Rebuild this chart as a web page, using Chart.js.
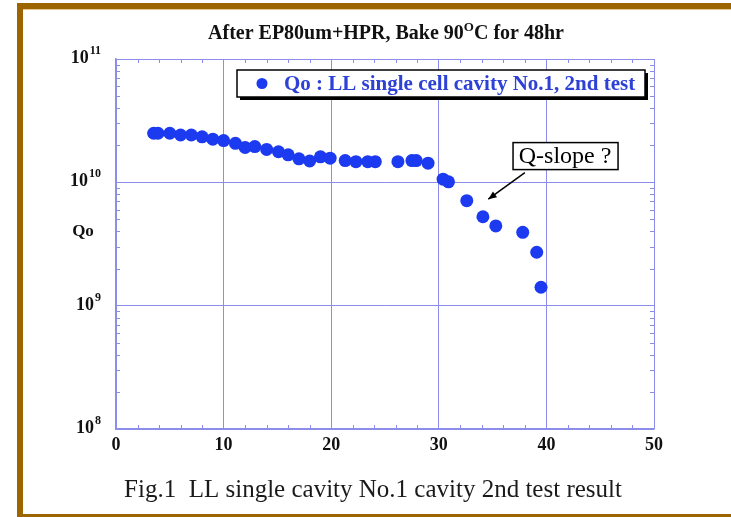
<!DOCTYPE html>
<html>
<head>
<meta charset="utf-8">
<script src="https://cdn.jsdelivr.net/npm/chart.js@4/dist/chart.umd.min.js"></script>
<style>
  html, body { margin: 0; padding: 0; background: #fff; }
  #wrap { position: relative; width: 731px; height: 517px; }
  #frame {
    position: absolute; left: 17px; top: 3px; right: 0; bottom: 0;
    border-left: 6px solid #9c6500; border-top: 6px solid #9c6500; border-bottom: 3px solid #9c6500;
    box-shadow: inset 0 1px 0 #e6c88a; pointer-events: none;
  }
</style>
</head>
<body>
<div id="wrap">
  <canvas id="myChart" width="731" height="517"></canvas>
  <div id="frame"></div>
</div>
<script>
// Eacc (MV/m) and Qo
const eacc = [3.5, 3.9, 5.0, 6.0, 7.0, 8.0, 9.0, 10.0, 11.1, 12.0, 12.9, 14.0, 15.1, 16.0, 17.0, 18.0, 19.0, 19.9,
  21.3, 22.3, 23.4, 24.1, 26.2, 27.5, 27.9, 29.0, 30.4, 30.9, 32.6, 34.1, 35.3, 37.8, 39.1, 39.5];
const qo = [2.50e10, 2.50e10, 2.50e10, 2.42e10, 2.42e10, 2.34e10, 2.24e10, 2.18e10, 2.07e10, 1.92e10, 1.95e10, 1.85e10,
  1.77e10, 1.67e10, 1.55e10, 1.49e10, 1.61e10, 1.57e10, 1.50e10, 1.47e10, 1.47e10, 1.47e10, 1.47e10, 1.50e10,
  1.50e10, 1.43e10, 1.06e10, 1.01e10, 7.1e9, 5.26e9, 4.43e9, 3.93e9, 2.71e9, 1.41e9];
const yDecades = [1e8, 1e9, 1e10, 1e11];
const yExponents = ["8", "9", "10", "11"];
const xMinor = [2, 4, 6, 8, 12, 14, 16, 18, 22, 24, 26, 28, 32, 34, 36, 38, 42, 44, 46, 48];
const titleParts = ["After EP80um+HPR, Bake 90", "O", "C for 48hr"];
const seriesLabel = "Qo : LL single cell cavity No.1, 2nd test";
const caption = "Fig.1  LL single cavity No.1 cavity 2nd test result";

const serif = '"Liberation Serif", "DejaVu Serif", serif';
const axisColor = "rgb(140,140,235)";
const dotColor = "rgb(28,58,240)";

// draws the frame texts, legend box, minor ticks and the Q-slope note
const extras = {
  id: "extras",
  afterDraw(chart) {
    const ctx = chart.ctx;
    const a = chart.chartArea;
    const xs = chart.scales.x;
    const ys = chart.scales.y;
    ctx.save();

    // minor tick marks inside the frame
    ctx.strokeStyle = axisColor;
    ctx.lineWidth = 1;
    ctx.beginPath();
    xMinor.forEach((v) => {
      const px = Math.round(xs.getPixelForValue(v)) + 0.5;
      ctx.moveTo(px, a.bottom); ctx.lineTo(px, a.bottom - 4);
      ctx.moveTo(px, a.top); ctx.lineTo(px, a.top + 4);
    });
    for (let e = 8; e < 11; e++) {
      for (let m = 2; m <= 9; m++) {
        const py = Math.round(ys.getPixelForValue(m * Math.pow(10, e))) + 0.5;
        ctx.moveTo(a.left, py); ctx.lineTo(a.left + 4, py);
        ctx.moveTo(a.right, py); ctx.lineTo(a.right - 4, py);
      }
    }
    ctx.stroke();

    // y tick labels as 10 with a raised exponent
    ctx.fillStyle = "#111";
    ctx.textBaseline = "alphabetic";
    ctx.textAlign = "left";
    yDecades.forEach((v, i) => {
      const py = ys.getPixelForValue(v);
      ctx.font = "bold 12px " + serif;
      const we = ctx.measureText(yExponents[i]).width;
      ctx.font = "bold 18px " + serif;
      const wb = ctx.measureText("10").width;
      const x0 = 100 - we - wb;
      ctx.fillText("10", x0, py + 4);
      ctx.font = "bold 12px " + serif;
      ctx.fillText(yExponents[i], x0 + wb + 1, py - 5);
    });

    // title with superscript O
    const big = "bold 20px " + serif;
    const small = "bold 13px " + serif;
    ctx.font = big;
    const w0 = ctx.measureText(titleParts[0]).width;
    const w2 = ctx.measureText(titleParts[2]).width;
    ctx.font = small;
    const w1 = ctx.measureText(titleParts[1]).width;
    let tx = 386 - (w0 + w1 + w2) / 2;
    const ty = 39;
    ctx.font = big;
    ctx.fillText(titleParts[0], tx, ty); tx += w0;
    ctx.font = small; ctx.fillText(titleParts[1], tx, ty - 8); tx += w1;
    ctx.font = big; ctx.fillText(titleParts[2], tx, ty);

    // y axis name
    ctx.font = "bold 17px " + serif;
    ctx.textAlign = "center"; ctx.textBaseline = "middle";
    ctx.fillText("Qo", 83, ys.getPixelForValue(4e9));

    // caption
    ctx.font = "25px " + serif;
    ctx.fillStyle = "#1a1a1a";
    ctx.fillText(caption, 373, 490);

    // legend box with shadow
    const lx = 237, ly = 70, lw = 408, lh = 27;
    ctx.fillStyle = "#000";
    ctx.fillRect(lx + 3, ly + 3, lw, lh);
    ctx.fillStyle = "#fff";
    ctx.fillRect(lx, ly, lw, lh);
    ctx.strokeStyle = "#000"; ctx.lineWidth = 1.5;
    ctx.strokeRect(lx, ly, lw, lh);
    ctx.fillStyle = dotColor;
    ctx.beginPath(); ctx.arc(262, ly + lh / 2, 5.5, 0, Math.PI * 2); ctx.fill();
    ctx.fillStyle = "rgb(45,65,215)";
    ctx.font = "bold 21px " + serif;
    ctx.textAlign = "left";
    ctx.fillText(seriesLabel, 284, ly + lh / 2 + 1);

    // Q-slope note and arrow
    const bx = xs.getPixelForValue(36.9), by = ys.getPixelForValue(2.1e10);
    ctx.fillStyle = "#fff";
    ctx.fillRect(bx, by, 105, 27);
    ctx.strokeStyle = "#000"; ctx.lineWidth = 1.5;
    ctx.strokeRect(bx, by, 105, 27);
    ctx.fillStyle = "#000";
    ctx.font = "24px " + serif;
    ctx.textAlign = "center";
    ctx.fillText("Q-slope ?", bx + 52, by + 14);
    const x1 = xs.getPixelForValue(38.0), y1 = ys.getPixelForValue(1.2e10);
    const x2 = xs.getPixelForValue(34.6), y2 = ys.getPixelForValue(7.3e9);
    ctx.lineWidth = 1.5;
    ctx.beginPath(); ctx.moveTo(x1, y1); ctx.lineTo(x2, y2); ctx.stroke();
    const ang = Math.atan2(y2 - y1, x2 - x1);
    ctx.beginPath();
    ctx.moveTo(x2, y2);
    ctx.lineTo(x2 - 9 * Math.cos(ang - 0.4), y2 - 9 * Math.sin(ang - 0.4));
    ctx.lineTo(x2 - 9 * Math.cos(ang + 0.4), y2 - 9 * Math.sin(ang + 0.4));
    ctx.closePath(); ctx.fill();

    ctx.restore();
  }
};

const data = {
  datasets: [
    {
      label: seriesLabel,
      data: eacc.map((x, i) => ({ x: x, y: qo[i] })),
      backgroundColor: dotColor,
      borderWidth: 0,
      pointRadius: 6.5,
      pointHoverRadius: 6.5,
      showLine: false
    }
  ]
};

const config = {
  type: "scatter",
  data: data,
  options: {
    responsive: false,
    animation: false,
    layout: { padding: { left: 0, top: 59, right: 77, bottom: 58 } },
    plugins: { legend: { display: false }, tooltip: { enabled: false } },
    scales: {
      x: {
        type: "linear",
        min: 0, max: 50,
        ticks: { stepSize: 10, padding: 6, color: "#111", font: { family: serif, size: 18, weight: "bold" } },
        grid: { color: axisColor, drawTicks: false, lineWidth: 1 },
        border: { color: axisColor, width: 1.5 },
        afterFit: (s) => { s.height = 30; }
      },
      y: {
        type: "logarithmic",
        min: 1e8, max: 1e11,
        afterBuildTicks: (s) => { s.ticks = yDecades.map((v) => ({ value: v })); },
        ticks: { display: false },
        grid: { color: axisColor, drawTicks: false, lineWidth: 1 },
        border: { color: axisColor, width: 1.5 },
        afterFit: (s) => { s.width = 116; }
      }
    }
  },
  plugins: [extras]
};

const myChart = new Chart(document.getElementById("myChart"), config);
</script>
</body>
</html>
